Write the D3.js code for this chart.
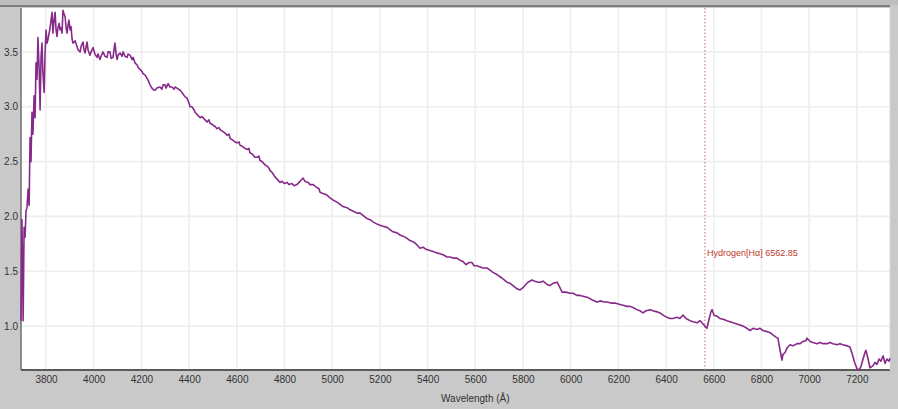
<!DOCTYPE html>
<html>
<head>
<meta charset="utf-8">
<script src="https://cdn.jsdelivr.net/npm/d3@7/dist/d3.min.js"></script>
<style>
  html, body { margin: 0; padding: 0; background: #c9c9c9; }
  svg { display: block; }
  text { font-family: "Liberation Sans", "DejaVu Sans", sans-serif; }
</style>
</head>
<body>
<svg id="chart" width="898" height="409"></svg>
<script>
// Spectrum samples: wavelength (Å) and relative flux
const wavelength = [
  3695,3699,3704,3708,3712,3716,3720,3725,3729,3733,3737,3741,3745,3750,3754,3758,3762,3766,3771,3775,
  3779,3783,3787,3792,3796,3800,3804,3808,3817,3825,3829,3834,3838,3842,3846,3850,3855,3859,3863,3867,
  3871,3875,3880,3884,3888,3892,3896,3901,3905,3909,3913,3922,3930,3934,3943,3947,3955,3959,3964,3968,
  3972,3976,3984,3989,3997,4005,4014,4018,4026,4031,4039,4047,4056,4060,4068,4073,4081,4085,4089,4094,
  4098,4102,4110,4119,4123,4131,4140,4144,4152,4161,4165,4173,4182,4186,4194,4203,4207,4215,4223,4228,
  4236,4244,4253,4257,4265,4278,4286,4291,4299,4303,4312,4320,4328,4337,4341,4349,4362,4370,4383,4391,
  4400,4404,4412,4421,4425,4433,4446,4454,4467,4475,4483,4488,4496,4509,4517,4525,4530,4538,4551,4559,
  4567,4572,4580,4592,4601,4609,4613,4622,4634,4643,4651,4655,4664,4676,4685,4693,4697,4706,4718,4727,
  4735,4739,4748,4760,4769,4781,4790,4798,4811,4819,4831,4840,4852,4861,4869,4878,4886,4899,4907,4920,
  4932,4945,4949,4961,4974,4991,5003,5020,5033,5045,5062,5075,5087,5104,5117,5129,5146,5159,5171,5188,
  5200,5213,5230,5242,5255,5272,5284,5297,5314,5326,5339,5351,5360,5368,5381,5393,5410,5423,5435,5452,
  5465,5481,5494,5507,5523,5536,5548,5561,5574,5586,5595,5607,5620,5632,5649,5662,5674,5691,5704,5716,
  5733,5746,5758,5775,5788,5800,5808,5821,5838,5850,5863,5871,5884,5901,5913,5926,5943,5955,5964,5980,
  5997,6010,6026,6039,6056,6073,6089,6110,6127,6140,6152,6169,6186,6203,6219,6236,6249,6261,6278,6291,
  6303,6316,6333,6345,6362,6375,6387,6404,6416,6429,6446,6458,6471,6484,6500,6513,6530,6542,6555,6567,
  6571,6580,6588,6593,6601,6614,6626,6643,6655,6668,6681,6697,6710,6723,6739,6752,6765,6781,6794,6806,
  6823,6836,6848,6861,6869,6878,6886,6890,6899,6907,6920,6932,6949,6962,6974,6987,6991,7004,7016,7033,
  7045,7058,7075,7087,7100,7117,7129,7142,7159,7171,7180,7192,7201,7209,7217,7226,7234,7238,7247,7255,
  7268,7276,7284,7293,7301,7310,7318,7326,7335,7339
];
const flux = [
  1.05,1.97,1.05,1.90,1.81,2.05,2.08,2.25,2.10,2.72,2.50,2.95,2.75,3.10,2.90,3.40,3.25,3.63,3.35,2.97,
  3.45,3.58,3.30,3.13,3.50,3.70,3.58,3.61,3.72,3.86,3.67,3.80,3.86,3.70,3.64,3.72,3.76,3.70,3.72,3.67,
  3.88,3.85,3.82,3.72,3.67,3.74,3.79,3.70,3.73,3.62,3.58,3.60,3.55,3.52,3.50,3.55,3.59,3.52,3.49,3.55,
  3.59,3.52,3.47,3.50,3.54,3.48,3.45,3.48,3.43,3.46,3.50,3.46,3.45,3.50,3.50,3.44,3.45,3.52,3.58,3.48,
  3.43,3.47,3.49,3.46,3.50,3.46,3.45,3.48,3.47,3.43,3.45,3.40,3.38,3.36,3.34,3.32,3.30,3.29,3.26,3.24,
  3.20,3.17,3.15,3.15,3.17,3.18,3.16,3.20,3.20,3.17,3.21,3.18,3.18,3.16,3.18,3.17,3.15,3.13,3.09,3.08,
  3.03,3.00,3.00,2.97,2.95,2.93,2.90,2.91,2.88,2.86,2.88,2.85,2.84,2.82,2.80,2.81,2.79,2.78,2.76,2.74,
  2.75,2.71,2.70,2.68,2.67,2.68,2.65,2.64,2.62,2.61,2.62,2.58,2.57,2.54,2.54,2.55,2.51,2.50,2.47,2.46,
  2.44,2.42,2.40,2.36,2.34,2.31,2.32,2.30,2.31,2.29,2.30,2.28,2.29,2.31,2.33,2.35,2.32,2.31,2.29,2.29,
  2.27,2.25,2.22,2.21,2.20,2.17,2.15,2.13,2.11,2.09,2.08,2.06,2.05,2.03,2.03,2.01,1.98,1.97,1.95,1.93,
  1.92,1.91,1.90,1.88,1.86,1.85,1.83,1.82,1.80,1.78,1.77,1.75,1.73,1.71,1.72,1.70,1.69,1.68,1.67,1.66,
  1.65,1.63,1.63,1.62,1.62,1.60,1.59,1.56,1.58,1.58,1.55,1.55,1.54,1.53,1.53,1.51,1.49,1.47,1.45,1.43,
  1.40,1.39,1.37,1.34,1.33,1.35,1.37,1.40,1.42,1.41,1.40,1.40,1.41,1.38,1.37,1.39,1.40,1.35,1.31,1.31,
  1.30,1.30,1.28,1.28,1.27,1.26,1.24,1.22,1.23,1.22,1.22,1.21,1.21,1.20,1.19,1.18,1.18,1.17,1.15,1.14,
  1.12,1.14,1.15,1.14,1.13,1.12,1.10,1.08,1.07,1.07,1.08,1.07,1.10,1.07,1.05,1.04,1.03,1.05,1.02,0.99,
  0.98,1.06,1.13,1.15,1.10,1.09,1.07,1.06,1.05,1.04,1.03,1.02,1.01,1.00,0.98,0.96,0.98,0.97,0.98,0.96,
  0.95,0.94,0.92,0.90,0.89,0.78,0.69,0.74,0.76,0.80,0.83,0.82,0.84,0.84,0.86,0.87,0.89,0.86,0.85,0.84,
  0.85,0.84,0.84,0.85,0.84,0.83,0.84,0.83,0.82,0.81,0.75,0.66,0.61,0.60,0.63,0.70,0.76,0.78,0.70,0.62,
  0.64,0.67,0.65,0.70,0.68,0.73,0.66,0.70,0.68,0.71
];

const xTicks = [3800,4000,4200,4400,4600,4800,5000,5200,5400,5600,5800,6000,6200,6400,6600,6800,7000,7200];
const yTicks = [1.0,1.5,2.0,2.5,3.0,3.5];

// Spectral line marker
const lineNames = ["Hydrogen[Hα]"];
const lineWavelengths = [6562.85];

const svg = d3.select("#chart");
const W = 898, H = 409;
const margin = {left: 21, top: 8, right: 8, bottom: 39};
const plotW = W - margin.left - margin.right;
const plotH = H - margin.top - margin.bottom;

const x = d3.scaleLinear().domain([3695, 7339]).range([margin.left, margin.left + plotW]);
const y = d3.scaleLinear().domain([0.6, 3.9]).range([margin.top + plotH, margin.top]);

// Window background and top strip
svg.append("rect").attr("width", W).attr("height", H).attr("fill", "#c9c9c9");
svg.append("rect").attr("x", 0).attr("y", 0).attr("width", W).attr("height", 5).attr("fill", "#bdbdbd");
svg.append("rect").attr("x", 0).attr("y", 5).attr("width", 890).attr("height", 2).attr("fill", "#7d7d7d");

// Plot area
svg.append("rect")
  .attr("x", margin.left).attr("y", margin.top)
  .attr("width", plotW).attr("height", plotH)
  .attr("fill", "#ffffff");

// Grid lines
const grid = svg.append("g").attr("stroke", "#eeeeee").attr("stroke-width", 1.6);
grid.selectAll("line.v").data(xTicks).join("line")
  .attr("class", "v")
  .attr("x1", d => x(d)).attr("x2", d => x(d))
  .attr("y1", margin.top).attr("y2", margin.top + plotH);
grid.selectAll("line.h").data(yTicks).join("line")
  .attr("class", "h")
  .attr("x1", margin.left).attr("x2", margin.left + plotW)
  .attr("y1", d => y(d)).attr("y2", d => y(d));

// Axes (labels only, no tick marks)
const xAxis = d3.axisBottom(x).tickValues(xTicks).tickSize(0).tickPadding(6).tickFormat(d3.format("d"));
const gx = svg.append("g").attr("transform", `translate(0,${margin.top + plotH})`).call(xAxis);
gx.select(".domain").remove();
gx.selectAll("text").attr("font-size", 10).attr("fill", "#333").attr("font-family", "Liberation Sans, sans-serif");

const yAxis = d3.axisLeft(y).tickValues(yTicks).tickSize(0).tickPadding(3).tickFormat(d3.format(".1f"));
const gy = svg.append("g").attr("transform", `translate(${margin.left},0)`).call(yAxis);
gy.select(".domain").remove();
gy.selectAll("text").attr("font-size", 10).attr("fill", "#333").attr("font-family", "Liberation Sans, sans-serif");

// Frame
svg.append("line").attr("x1", margin.left).attr("x2", margin.left)
  .attr("y1", margin.top).attr("y2", margin.top + plotH)
  .attr("stroke", "#6e6e6e").attr("stroke-width", 1.5);
svg.append("line").attr("x1", margin.left).attr("x2", margin.left + plotW)
  .attr("y1", margin.top + plotH).attr("y2", margin.top + plotH)
  .attr("stroke", "#5a5a5a").attr("stroke-width", 2);
svg.append("line").attr("x1", margin.left + plotW).attr("x2", margin.left + plotW)
  .attr("y1", margin.top).attr("y2", margin.top + plotH)
  .attr("stroke", "#d8d8d8").attr("stroke-width", 1);

// Axis title
svg.append("text")
  .attr("x", x(5600)).attr("y", 402)
  .attr("text-anchor", "middle").attr("font-size", 10).attr("fill", "#333")
  .text("Wavelength (Å)");

// Spectral line marker
const markers = svg.append("g");
lineWavelengths.forEach((w, i) => {
  markers.append("line")
    .attr("x1", x(w)).attr("x2", x(w))
    .attr("y1", margin.top).attr("y2", margin.top + plotH)
    .attr("stroke", "#c98a8a").attr("stroke-width", 1.2)
    .attr("stroke-dasharray", "1.5,2");
  markers.append("text")
    .attr("x", x(w) + 2).attr("y", y(1.64))
    .attr("font-size", 9).attr("fill", "#c0392b")
    .text(`${lineNames[i]} ${w.toFixed(2)}`);
});

// Spectrum curve
const pts = wavelength.map((w, i) => [w, flux[i]]);
const lineGen = d3.line().x(d => x(d[0])).y(d => y(d[1]));
svg.append("path")
  .datum(pts)
  .attr("fill", "none")
  .attr("stroke", "#862a8a")
  .attr("stroke-width", 1.6)
  .attr("stroke-linejoin", "round")
  .attr("d", lineGen);
</script>
</body>
</html>
